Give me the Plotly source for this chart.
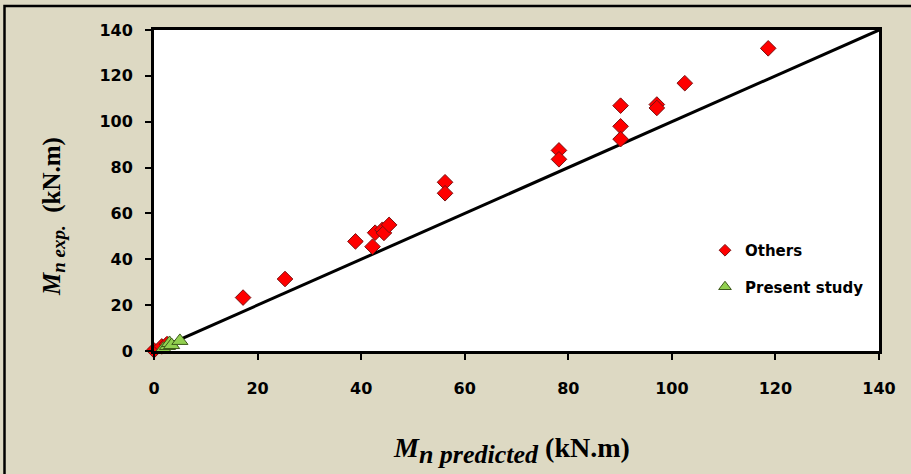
import plotly.graph_objects as go

# Data
others_x = [0, 1.5, 2.5, 17.2, 25.3, 38.9, 42.2, 42.7, 44.1, 44.4, 45.4, 56.2, 56.2,
            78.2, 78.2, 90.1, 90.1, 90.1, 97.1, 97.1, 102.5, 118.6]
others_y = [0.3, 2.0, 3.0, 23.3, 31.4, 47.8, 45.5, 51.6, 52.9, 51.5, 55.0, 73.6, 68.8,
            87.5, 83.6, 107.0, 98.0, 92.4, 107.5, 106.0, 116.8, 132.0]
present_x = [1.8, 2.6, 3.0, 3.4, 5.0]
present_y = [1.0, 2.2, 3.5, 2.6, 4.4]
line_x = [0, 140]
line_y = [0, 140]
tick_vals = [0, 20, 40, 60, 80, 100, 120, 140]

RED, RED_EDGE = "#FF0000", "#7a1010"
GREEN, GREEN_EDGE = "#92D050", "#3d5a1a"

fig = go.Figure()
fig.add_trace(go.Scatter(x=line_x, y=line_y, mode="lines",
                         line=dict(color="black", width=3), showlegend=False,
                         hoverinfo="skip"))
fig.add_trace(go.Scatter(x=others_x, y=others_y, mode="markers", name="Others",
                         showlegend=False, cliponaxis=False,
                         marker=dict(symbol="diamond", size=12, color=RED,
                                     line=dict(color=RED_EDGE, width=1))))
fig.add_trace(go.Scatter(x=present_x, y=present_y, mode="markers", name="Present study",
                         showlegend=False, cliponaxis=False,
                         marker=dict(symbol="triangle-up", size=14, color=GREEN,
                                     line=dict(color=GREEN_EDGE, width=1))))
# legend entries (smaller symbols as in the reference legend)
fig.add_trace(go.Scatter(x=[None], y=[None], mode="markers", name="Others",
                         legendgroup="a",
                         marker=dict(symbol="diamond", size=9, color=RED,
                                     line=dict(color=RED_EDGE, width=1))))
fig.add_trace(go.Scatter(x=[None], y=[None], mode="markers", name="Present study",
                         legendgroup="b",
                         marker=dict(symbol="triangle-up", size=11, color=GREEN,
                                     line=dict(color=GREEN_EDGE, width=1))))

W, H = 911, 474
L, R, T, B = 154, 32, 30, 123
pw, ph = W - L - R, H - T - B

def px2x(px):
    return (px - L) / pw

def py2y(py):
    return (H - B - py) / ph

axis_common = dict(range=[0, 140], tickvals=tick_vals, showgrid=False, zeroline=False,
                   showline=True, linewidth=3, linecolor="black", mirror=True,
                   ticks="outside", ticklen=6, tickwidth=1.5, tickcolor="black",
                   tickfont=dict(family="DejaVu Sans", size=16, color="black", weight="bold"))

fig.update_layout(
    width=W, height=H,
    margin=dict(l=L, r=R, t=T, b=B),
    paper_bgcolor="#DDD9C3",
    plot_bgcolor="white",
    xaxis=dict(**axis_common, ticklabelstandoff=15),
    yaxis=dict(**axis_common, ticklabelstandoff=9),
    legend=dict(x=px2x(705), y=py2y(234), xanchor="left", yanchor="top",
                bgcolor="rgba(255,255,255,0)", tracegroupgap=14,
                font=dict(family="DejaVu Sans", size=15, color="black", weight="bold")),
    showlegend=True,
)

# outer border (top and left visible)
fig.add_shape(type="rect", xref="paper", yref="paper",
              x0=px2x(4.5), x1=px2x(1000), y0=py2y(600), y1=py2y(6),
              line=dict(color="black", width=2.5), fillcolor="rgba(0,0,0,0)",
              layer="below")

fig.add_annotation(xref="paper", yref="paper", x=px2x(511), y=py2y(450),
                   text=("<b><i>M</i></b><sub><span style=\"font-size:26px\"><b><i>n predicted</i></b></span></sub>"
                         " <b>(kN.m)</b>"),
                   showarrow=False, font=dict(family="Liberation Serif", size=28, color="black"),
                   xanchor="center", yanchor="middle")
fig.add_annotation(xref="paper", yref="paper", x=px2x(54), y=py2y(217),
                   text=("<b><i>M</i></b><sub><span style=\"font-size:19px\"><b><i>n exp.</i></b></span></sub>"
                         "  <b>(kN.m)</b>"),
                   showarrow=False, font=dict(family="Liberation Serif", size=25, color="black"),
                   textangle=-90, xanchor="center", yanchor="middle")

fig.write_html("out.html")
